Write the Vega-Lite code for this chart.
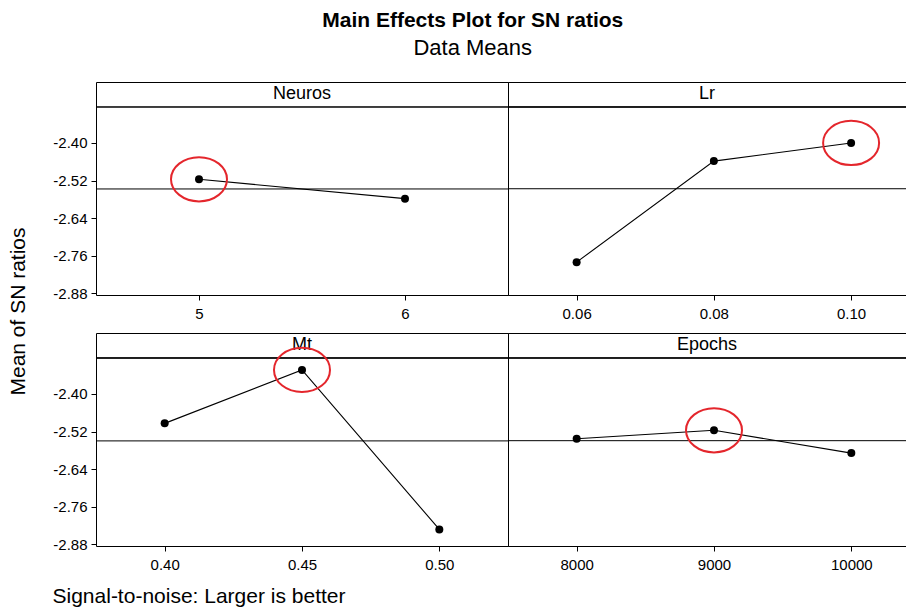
{
  "$schema": "https://vega.github.io/schema/vega-lite/v6.json",
  "padding": {"left": 6, "top": 9, "right": 0, "bottom": 0},
  "background": "white",
  "title": {"text": "Main Effects Plot for SN ratios", "subtitle": "Data Means", "fontSize": 21, "fontWeight": "bold", "color": "black", "subtitleFontSize": 22, "subtitleColor": "black", "subtitlePadding": 7, "anchor": "middle", "offset": 23, "dx": 16},
  "datasets": {
    "effects": [
      {"factor": "Neuros", "level": 5, "sn": -2.516},
      {"factor": "Neuros", "level": 6, "sn": -2.578},
      {"factor": "Lr", "level": 0.06, "sn": -2.781},
      {"factor": "Lr", "level": 0.08, "sn": -2.458},
      {"factor": "Lr", "level": 0.10, "sn": -2.400},
      {"factor": "Mt", "level": 0.40, "sn": -2.494},
      {"factor": "Mt", "level": 0.45, "sn": -2.323},
      {"factor": "Mt", "level": 0.50, "sn": -2.833},
      {"factor": "Epochs", "level": 8000, "sn": -2.543},
      {"factor": "Epochs", "level": 9000, "sn": -2.516},
      {"factor": "Epochs", "level": 10000, "sn": -2.589}
    ]
  },
  "bounds": "flush",
  "columns": 2,
  "spacing": {"row": 38, "column": 0},
  "concat": [
    {"width": 412, "height": 213, "data": {"name": "effects"},
     "transform": [{"filter": "datum.factor === 'Neuros'"}],
     "layer": [
       {"mark": {"type": "rule", "color": "black", "strokeWidth": 1},
        "encoding": {"y": {"datum": -2.285, "type": "quantitative", "scale": {"domain": [-2.886, -2.2051], "nice": false, "zero": false}, "axis": {"values": [-2.88, -2.76, -2.64, -2.52, -2.4], "labelExpr": "replace(format(datum.value, '.2f'), '−', '-')", "title": "Mean of SN ratios", "titleX": -68, "titleY": 229}}}},
       {"transform": [{"aggregate": [{"op": "count", "as": "n"}], "groupby": ["factor"]}],
        "mark": {"type": "text", "fontSize": 18, "color": "black"},
        "encoding": {"text": {"field": "factor"}, "y": {"datum": -2.245, "type": "quantitative"}}},
       {"mark": {"type": "rule", "color": "black", "strokeWidth": 1},
        "encoding": {"y": {"aggregate": "mean", "field": "sn", "type": "quantitative"}}},
       {"mark": {"type": "line", "color": "black", "strokeWidth": 1.1},
        "encoding": {"x": {"field": "level", "type": "quantitative", "scale": {"domain": [4.5, 6.5], "nice": false, "zero": false}, "axis": {"values": [5, 6], "format": "d", "title": null}},
                     "y": {"field": "sn", "type": "quantitative"}}},
       {"mark": {"type": "point", "filled": true, "color": "black", "size": 64, "opacity": 1},
        "encoding": {"x": {"field": "level", "type": "quantitative"}, "y": {"field": "sn", "type": "quantitative"}}},
       {"transform": [{"joinaggregate": [{"op": "max", "field": "sn", "as": "best"}]}, {"filter": "datum.sn === datum.best"}],
        "mark": {"type": "point", "shape": "M -1 0 A 1 0.79 0 1 1 1 0 A 1 0.79 0 1 1 -1 0 Z", "size": 3136, "filled": false, "stroke": "#e4262c", "strokeWidth": 2, "opacity": 1},
        "encoding": {"x": {"field": "level", "type": "quantitative"}, "y": {"field": "sn", "type": "quantitative"}}}
     ]},
    {"width": 398, "height": 213, "data": {"name": "effects"},
     "transform": [{"filter": "datum.factor === 'Lr'"}],
     "layer": [
       {"mark": {"type": "rule", "color": "black", "strokeWidth": 1},
        "encoding": {"y": {"datum": -2.285, "type": "quantitative", "scale": {"domain": [-2.886, -2.2051], "nice": false, "zero": false}, "axis": null}}},
       {"transform": [{"aggregate": [{"op": "count", "as": "n"}], "groupby": ["factor"]}],
        "mark": {"type": "text", "fontSize": 18, "color": "black"},
        "encoding": {"text": {"field": "factor"}, "y": {"datum": -2.245, "type": "quantitative"}}},
       {"mark": {"type": "rule", "color": "black", "strokeWidth": 1},
        "encoding": {"y": {"aggregate": "mean", "field": "sn", "type": "quantitative"}}},
       {"mark": {"type": "line", "color": "black", "strokeWidth": 1.1},
        "encoding": {"x": {"field": "level", "type": "quantitative", "scale": {"domain": [0.05, 0.108], "nice": false, "zero": false}, "axis": {"values": [0.06, 0.08, 0.1], "format": ".2f", "title": null}},
                     "y": {"field": "sn", "type": "quantitative"}}},
       {"mark": {"type": "point", "filled": true, "color": "black", "size": 64, "opacity": 1},
        "encoding": {"x": {"field": "level", "type": "quantitative"}, "y": {"field": "sn", "type": "quantitative"}}},
       {"transform": [{"joinaggregate": [{"op": "max", "field": "sn", "as": "best"}]}, {"filter": "datum.sn === datum.best"}],
        "mark": {"type": "point", "shape": "M -1 0 A 1 0.79 0 1 1 1 0 A 1 0.79 0 1 1 -1 0 Z", "size": 3136, "filled": false, "stroke": "#e4262c", "strokeWidth": 2, "opacity": 1},
        "encoding": {"x": {"field": "level", "type": "quantitative"}, "y": {"field": "sn", "type": "quantitative"}}}
     ]},
    {"width": 412, "height": 213, "data": {"name": "effects"},
     "transform": [{"filter": "datum.factor === 'Mt'"}],
     "layer": [
       {"mark": {"type": "rule", "color": "black", "strokeWidth": 1},
        "encoding": {"y": {"datum": -2.285, "type": "quantitative", "scale": {"domain": [-2.886, -2.2051], "nice": false, "zero": false}, "axis": {"values": [-2.88, -2.76, -2.64, -2.52, -2.4], "labelExpr": "replace(format(datum.value, '.2f'), '−', '-')", "title": null}}}},
       {"transform": [{"aggregate": [{"op": "count", "as": "n"}], "groupby": ["factor"]}],
        "mark": {"type": "text", "fontSize": 18, "color": "black"},
        "encoding": {"text": {"field": "factor"}, "y": {"datum": -2.245, "type": "quantitative"}}},
       {"mark": {"type": "rule", "color": "black", "strokeWidth": 1},
        "encoding": {"y": {"aggregate": "mean", "field": "sn", "type": "quantitative"}}},
       {"mark": {"type": "line", "color": "black", "strokeWidth": 1.1},
        "encoding": {"x": {"field": "level", "type": "quantitative", "scale": {"domain": [0.375, 0.525], "nice": false, "zero": false}, "axis": {"values": [0.4, 0.45, 0.5], "format": ".2f", "title": "Signal-to-noise: Larger is better", "titleAnchor": "start", "titleAlign": "left", "titleX": -44, "titleY": 56, "titleBaseline": "alphabetic", "titleFontSize": 21}},
                     "y": {"field": "sn", "type": "quantitative"}}},
       {"mark": {"type": "point", "filled": true, "color": "black", "size": 64, "opacity": 1},
        "encoding": {"x": {"field": "level", "type": "quantitative"}, "y": {"field": "sn", "type": "quantitative"}}},
       {"transform": [{"joinaggregate": [{"op": "max", "field": "sn", "as": "best"}]}, {"filter": "datum.sn === datum.best"}],
        "mark": {"type": "point", "shape": "M -1 0 A 1 0.79 0 1 1 1 0 A 1 0.79 0 1 1 -1 0 Z", "size": 3136, "filled": false, "stroke": "#e4262c", "strokeWidth": 2, "opacity": 1},
        "encoding": {"x": {"field": "level", "type": "quantitative"}, "y": {"field": "sn", "type": "quantitative"}}}
     ]},
    {"width": 398, "height": 213, "data": {"name": "effects"},
     "transform": [{"filter": "datum.factor === 'Epochs'"}],
     "layer": [
       {"mark": {"type": "rule", "color": "black", "strokeWidth": 1},
        "encoding": {"y": {"datum": -2.285, "type": "quantitative", "scale": {"domain": [-2.886, -2.2051], "nice": false, "zero": false}, "axis": null}}},
       {"transform": [{"aggregate": [{"op": "count", "as": "n"}], "groupby": ["factor"]}],
        "mark": {"type": "text", "fontSize": 18, "color": "black"},
        "encoding": {"text": {"field": "factor"}, "y": {"datum": -2.245, "type": "quantitative"}}},
       {"mark": {"type": "rule", "color": "black", "strokeWidth": 1},
        "encoding": {"y": {"aggregate": "mean", "field": "sn", "type": "quantitative"}}},
       {"mark": {"type": "line", "color": "black", "strokeWidth": 1.1},
        "encoding": {"x": {"field": "level", "type": "quantitative", "scale": {"domain": [7500, 10398], "nice": false, "zero": false}, "axis": {"values": [8000, 9000, 10000], "format": "d", "title": null}},
                     "y": {"field": "sn", "type": "quantitative"}}},
       {"mark": {"type": "point", "filled": true, "color": "black", "size": 64, "opacity": 1},
        "encoding": {"x": {"field": "level", "type": "quantitative"}, "y": {"field": "sn", "type": "quantitative"}}},
       {"transform": [{"joinaggregate": [{"op": "max", "field": "sn", "as": "best"}]}, {"filter": "datum.sn === datum.best"}],
        "mark": {"type": "point", "shape": "M -1 0 A 1 0.79 0 1 1 1 0 A 1 0.79 0 1 1 -1 0 Z", "size": 3136, "filled": false, "stroke": "#e4262c", "strokeWidth": 2, "opacity": 1},
        "encoding": {"x": {"field": "level", "type": "quantitative"}, "y": {"field": "sn", "type": "quantitative"}}}
     ]}
  ],
  "config": {
    "font": "Liberation Sans",
    "view": {"stroke": "black", "strokeWidth": 1},
    "axis": {"grid": false, "domain": false, "ticks": true, "tickColor": "black", "tickSize": 5, "labelColor": "black", "labelFontSize": 15, "titleColor": "black", "titleFontWeight": "normal", "titleFontSize": 21},
    "axisX": {"labelPadding": 6},
    "axisY": {"labelPadding": 4}
  }
}
